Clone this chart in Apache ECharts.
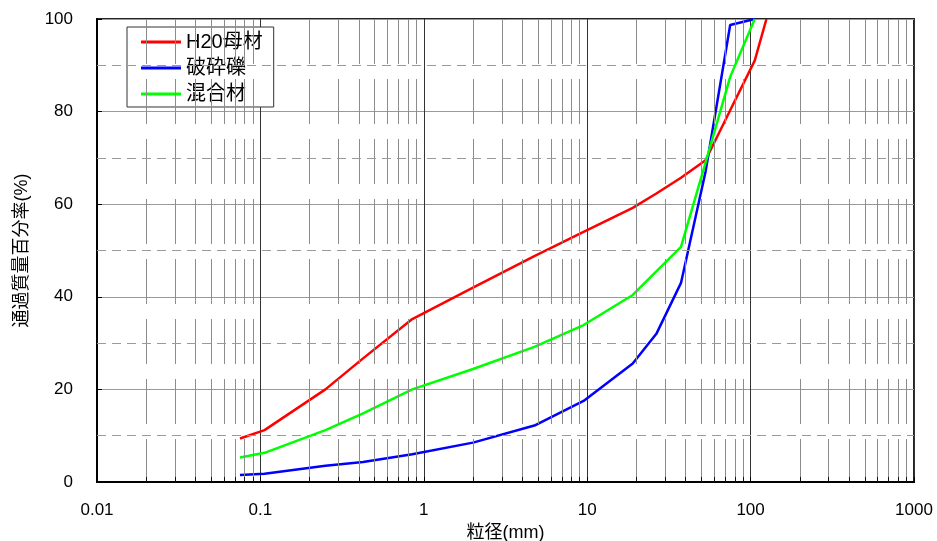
<!DOCTYPE html>
<html>
<head>
    <meta charset="UTF-8">
    <title>粒径加積曲線</title>
    <script src="https://cdn.jsdelivr.net/npm/echarts@6/dist/echarts.min.js"></script>
</head>
<body style="margin:0;background:#fff;">
<div id="main" style="width:937px;height:541px;"></div>
<script>
    // ふるい目 (mm)
    var sizes = [0.075, 0.106, 0.25, 0.425, 0.85, 2, 4.75, 9.5, 19, 26.5, 37.5, 53, 75, 106, 125];
    // 通過質量百分率 (%)
    var boZai = [9.4, 11.2, 20, 26.7, 35.2, 42, 48.8, 54, 59.2, 62.3, 65.7, 69.5, 80.3, 91, 100];
    var haSaiReki = [1.5, 1.8, 3.5, 4.3, 6.0, 8.5, 12.2, 17.5, 25.6, 32, 43, 67, 98.7, 100, null];
    var konGou = [5.3, 6.3, 11.2, 14.8, 20, 24.4, 29.2, 33.9, 40.4, 45.5, 50.8, 69, 87.5, 100, null];
    var names = ['H20母材', '破砕礫', '混合材'];
    var colors = ['#ff0000', '#0000ff', '#00ff00'];
    var yMinor = [10, 30, 50, 70, 90];

    var FONT = "'Liberation Sans', 'Noto Sans CJK JP', sans-serif";

    function pairs(ys) {
        var out = [];
        for (var i = 0; i < sizes.length; i++) {
            if (ys[i] != null) out.push([sizes[i], ys[i]]);
        }
        return out;
    }

    // 対数軸の補助線 (2~9)
    var minorX = [];
    for (var e = -2; e <= 2; e++) {
        for (var k = 2; k <= 9; k++) minorX.push(+(k * Math.pow(10, e)).toPrecision(3));
    }
    var vLines = minorX.map(function (v) { return [{coord: [v, 100]}, {coord: [v, 0]}]; });
    var vTicks = minorX.map(function (v) { return [{coord: [v, 0]}, {coord: [v, 1.1]}]; });
    var hLines = yMinor.map(function (y) { return [{coord: [0.01, y]}, {coord: [1000, y]}]; });

    var chart = echarts.init(document.getElementById('main'), null, {renderer: 'canvas'});

    var series = [
        {
            type: 'line', data: [], silent: true, z: 1,
            markLine: {
                silent: true, symbol: ['none', 'none'], animation: false,
                label: {show: false},
                lineStyle: {color: '#8c8c8c', width: 1, type: [45, 15]},
                data: vLines
            }
        },
        {
            type: 'line', data: [], silent: true, z: 1,
            markLine: {
                silent: true, symbol: ['none', 'none'], animation: false,
                label: {show: false},
                lineStyle: {color: '#9a9a9a', width: 1, type: [9, 6]},
                data: hLines
            }
        },
        {
            type: 'line', data: [], silent: true, z: 2,
            markLine: {
                silent: true, symbol: ['none', 'none'], animation: false,
                label: {show: false},
                lineStyle: {color: '#111', width: 1, type: 'solid'},
                data: vTicks
            }
        }
    ];
    [boZai, haSaiReki, konGou].forEach(function (ys, i) {
        series.push({
            name: names[i], type: 'line', data: pairs(ys), z: 3,
            showSymbol: false, symbol: 'none', animation: false,
            lineStyle: {color: colors[i], width: 2.5},
            itemStyle: {color: colors[i]}
        });
    });

    chart.setOption({
        backgroundColor: '#fff',
        animation: false,
        textStyle: {fontFamily: FONT},
        grid: {
            left: 97, right: 23, top: 19, bottom: 59,
            containLabel: false, outerBoundsMode: 'none',
            show: true, borderColor: '#222', borderWidth: 2, backgroundColor: 'transparent'
        },
        legend: {
            data: names, orient: 'vertical', left: 127, top: 27,
            icon: 'rect', itemWidth: 40, itemHeight: 3, itemGap: 6,
            padding: [5, 11, 3, 14],
            borderColor: '#333', borderWidth: 1, backgroundColor: '#fff',
            textStyle: {fontSize: 20, color: '#000', fontFamily: FONT}
        },
        xAxis: {
            type: 'log', logBase: 10, min: 0.01, max: 1000,
            name: '粒径(mm)', nameLocation: 'middle', nameGap: 39,
            nameTextStyle: {fontSize: 18, color: '#000', fontFamily: FONT},
            axisLine: {show: true, onZero: false, lineStyle: {color: '#000', width: 2}},
            axisTick: {show: true, inside: true, length: 5, lineStyle: {color: '#000'}},
            axisLabel: {
                fontSize: 17, color: '#000', margin: 20, fontFamily: FONT,
                formatter: function (v) { return String(+(+v).toPrecision(3)); }
            },
            splitLine: {show: true, lineStyle: {color: '#333', width: 1}}
        },
        yAxis: {
            type: 'value', min: 0, max: 100, interval: 20,
            name: '通過質量百分率(%)', nameLocation: 'middle', nameGap: 66,
            nameTextStyle: {fontSize: 18, color: '#000', fontFamily: FONT},
            axisLine: {show: true, lineStyle: {color: '#000', width: 2}},
            axisTick: {show: true, inside: true, length: 5, lineStyle: {color: '#000'}},
            minorTick: {show: true, splitNumber: 2, length: 5, lineStyle: {color: '#000'}},
            axisLabel: {fontSize: 17, color: '#000', margin: 24, fontFamily: FONT},
            splitLine: {show: true, lineStyle: {color: '#9a9a9a', width: 1}}
        },
        series: series
    });
</script>
</body>
</html>
